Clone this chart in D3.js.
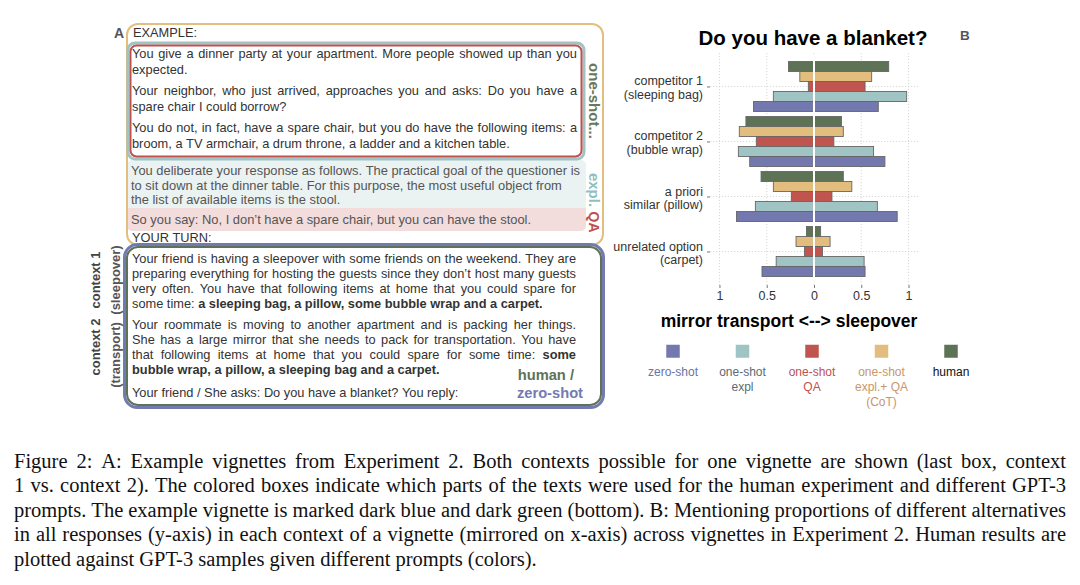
<!DOCTYPE html>
<html>
<head>
<meta charset="utf-8">
<script src="https://cdn.jsdelivr.net/npm/d3@7"></script>
<style>
  body { margin: 0; background: #fff; }
  svg { display: block; }
</style>
</head>
<body>
<svg id="fig" width="1080" height="585"></svg>
<script>
// ---------- panel B data ----------
const categories = ["competitor 1", "competitor 2", "a priori", "unrelated option"];
const categoryLabels = [["competitor 1", "(sleeping bag)"], ["competitor 2", "(bubble wrap)"],
                        ["a priori", "similar (pillow)"], ["unrelated option", "(carpet)"]];
// series top -> bottom inside each category
const seriesKeys = ["human", "cot", "qa", "expl", "zero"];
// mentioning proportions, left side (mirror transport) / right side (sleepover)
const humanTransport = [0.27, 0.72, 0.56, 0.08];
const humanSleepover = [0.79, 0.29, 0.31, 0.07];
const cotTransport   = [0.15, 0.79, 0.43, 0.19];
const cotSleepover   = [0.61, 0.31, 0.40, 0.17];
const qaTransport    = [0.06, 0.61, 0.24, 0.10];
const qaSleepover    = [0.54, 0.21, 0.19, 0.09];
const explTransport  = [0.43, 0.80, 0.62, 0.40];
const explSleepover  = [0.98, 0.63, 0.67, 0.53];
const zeroTransport  = [0.64, 0.68, 0.82, 0.55];
const zeroSleepover  = [0.68, 0.75, 0.88, 0.54];
const xTicks = [-1, -0.5, 0, 0.5, 1];

const legendKeys = ["zero", "expl", "qa", "cot", "human"];
const legendLabels = [["zero-shot"], ["one-shot", "expl"], ["one-shot", "QA"], ["one-shot", "expl.+ QA", "(CoT)"], ["human"]];

const fill = {zero: "#7379ae", expl: "#a0c4c4", qa: "#c0544f", cot: "#e2bd7d", human: "#5e7355"};
const labelColor = {zero: "#6b73a3", expl: "#5b6b72", qa: "#c0504d", cot: "#c9966b", human: "#111"};

// ---------- panel A text ----------
const exampleParas = [
  ["You give a dinner party at your apartment. More people showed up than you", "expected."],
  ["Your neighbor, who just arrived, approaches you and asks: Do you have a", "spare chair I could borrow?"],
  ["You do not, in fact, have a spare chair, but you do have the following items: a",
   "broom, a TV armchair, a drum throne, a ladder and a kitchen table."]
];
const explLines = ["You deliberate your response as follows. The practical goal of the questioner is",
  "to sit down at the dinner table. For this purpose, the most useful object from",
  "the list of available items is the stool."];
const qaLine = "So you say: No, I don\u2019t have a spare chair, but you can have the stool.";
const turnParas = [
  ["Your friend is having a sleepover with some friends on the weekend. They are",
   "preparing everything for hosting the guests since they don\u2019t host many guests",
   "very often. You have that following items at home that you could spare for",
   "some time: |a sleeping bag, a pillow, some bubble wrap and a carpet."],
  ["Your roommate is moving to another apartment and is packing her things.",
   "She has a large mirror that she needs to pack for transportation. You have",
   "that following items at home that you could spare for some time: |some",
   "|bubble wrap, a pillow, a sleeping bag and a carpet."]
];
const askLine = "Your friend / She asks: Do you have a blanket? You reply:";

const captionLines = [
  "Figure 2: A: Example vignettes from Experiment 2. Both contexts possible for one vignette are shown (last box, context",
  "1 vs. context 2). The colored boxes indicate which parts of the texts were used for the human experiment and different GPT-3",
  "prompts. The example vignette is marked dark blue and dark green (bottom). B: Mentioning proportions of different alternatives",
  "in all responses (y-axis) in each context of a vignette (mirrored on x-axis) across vignettes in Experiment 2. Human results are",
  "plotted against GPT-3 samples given different prompts (colors)."
];

const SANS = "Liberation Sans, Arial, Helvetica, sans-serif";
const SERIF = "Liberation Serif, Times New Roman, serif";
const svg = d3.select("#fig");

// word-by-word line, optionally justified; text after "|" is bold
function textLine(g, str, x, y, width, o) {
  const parts = str.split("|");
  const words = [];
  parts.forEach((p, k) => p.split(" ").filter(w => w).forEach(w => words.push({w, b: k === 1})));
  const nodes = words.map(d => g.append("text")
      .attr("y", y).attr("font-family", o.family || SANS).attr("font-size", o.size)
      .attr("font-weight", d.b ? "bold" : null).attr("fill", o.color || "#333").text(d.w));
  const widths = nodes.map(n => n.node().getComputedTextLength());
  let gap = o.size * (o.space || 0.278);
  if (o.justify && words.length > 1) gap = Math.max(o.size * 0.15, (width - d3.sum(widths)) / (words.length - 1));
  let cx = x;
  nodes.forEach((n, i) => { n.attr("x", cx); cx += widths[i] + gap; });
}

function paragraph(g, lines, x, y0, lh, width, o) {
  lines.forEach((l, i) => textLine(g, l, x, y0 + i * lh, width, Object.assign({justify: i < lines.length - 1}, o)));
}

function vtext(g, str, x, y, angle, o) {
  g.append("text").attr("transform", `translate(${x},${y}) rotate(${angle})`)
    .attr("text-anchor", "middle").attr("dominant-baseline", "central")
    .attr("font-family", SANS).attr("font-size", o.size).attr("font-weight", "bold")
    .attr("fill", o.color).text(str);
}

// ---------- panel A ----------
const A = svg.append("g");
A.append("text").attr("x", 114).attr("y", 38).attr("font-family", SANS).attr("font-size", 14)
  .attr("font-weight", "bold").attr("fill", "#555").text("A");

// background fills
A.append("rect").attr("x", 127).attr("y", 160).attr("width", 459).attr("height", 55).attr("rx", 5).attr("fill", "#eaf2f2");
A.append("rect").attr("x", 127).attr("y", 211).attr("width", 459).attr("height", 20).attr("rx", 5).attr("fill", "#f3dcdc");
A.append("rect").attr("x", 127).attr("y", 208).attr("width", 459).attr("height", 6).attr("fill", "#f3dcdc");

// frames
A.append("rect").attr("x", 127).attr("y", 24).attr("width", 476).attr("height", 221).attr("rx", 11)
  .attr("fill", "none").attr("stroke", "#e2bf7e").attr("stroke-width", 2);
A.append("rect").attr("x", 128).attr("y", 43).attr("width", 456).attr("height", 116).attr("rx", 7)
  .attr("fill", "none").attr("stroke", "#a0c4c4").attr("stroke-width", 3);
A.append("rect").attr("x", 130.5).attr("y", 45.5).attr("width", 451).attr("height", 111).attr("rx", 6)
  .attr("fill", "none").attr("stroke", "#c0504d").attr("stroke-width", 2);
A.append("rect").attr("x", 124.5).attr("y", 244.5).attr("width", 479).attr("height", 163).attr("rx", 13)
  .attr("fill", "none").attr("stroke", "#717bb2").attr("stroke-width", 3);
A.append("rect").attr("x", 127).attr("y", 247).attr("width", 474).attr("height", 158).attr("rx", 11)
  .attr("fill", "none").attr("stroke", "#5e7355").attr("stroke-width", 2);

// texts
const FS = 12.8;
textLine(A, "EXAMPLE:", 133, 37, 0, {size: FS});
const exY = [58, 95, 132];
exampleParas.forEach((p, i) => paragraph(A, p, 132, exY[i], 16, 445, {size: FS}));
explLines.forEach((l, i) => textLine(A, l, 131, 175 + i * 14.5, 0, {size: 12.9, color: "#555"}));
textLine(A, qaLine, 131, 224, 0, {size: 12.9, color: "#555"});
textLine(A, "YOUR TURN:", 132, 242, 0, {size: FS});

const tY = [263, 329];
turnParas.forEach((p, i) => paragraph(A, p, 132, tY[i], 15, 444, {size: FS}));
textLine(A, askLine, 132, 397, 0, {size: FS});

A.append("text").attr("x", 574).attr("y", 380).attr("text-anchor", "end").attr("font-family", SANS)
  .attr("font-size", 14.7).attr("font-weight", "bold").attr("fill", "#5e7355").text("human /");
A.append("text").attr("x", 583).attr("y", 398).attr("text-anchor", "end").attr("font-family", SANS)
  .attr("font-size", 14.7).attr("font-weight", "bold").attr("fill", "#717bb2").text("zero-shot");

vtext(A, "one-shot...", 594, 101, 90, {size: 15, color: "#67775d"});
vtext(A, "expl.", 594, 190, 90, {size: 15, color: "#8fbfbf"});
vtext(A, "QA", 594, 222, 90, {size: 14, color: "#c0504d"});
vtext(A, "context 1", 95, 280, -90, {size: 13, color: "#444"});
vtext(A, "(sleepover)", 115, 280, -90, {size: 13, color: "#555"});
vtext(A, "context 2", 95, 347, -90, {size: 13, color: "#444"});
vtext(A, "(transport)", 115, 355, -90, {size: 13, color: "#555"});

// ---------- panel B ----------
const B = svg.append("g");
const x = d3.scaleLinear().domain([-1.1, 1.1]).range([710, 918]);
const y = d3.scalePoint().domain(categories).range([53, 285]).padding(0.609);
const inner = d3.scaleBand().domain(seriesKeys).range([-25, 25]);

const lookup = {
  human: [humanTransport, humanSleepover], cot: [cotTransport, cotSleepover],
  qa: [qaTransport, qaSleepover], expl: [explTransport, explSleepover], zero: [zeroTransport, zeroSleepover]
};
const rows = [];
categories.forEach((c, i) => seriesKeys.forEach(s => rows.push({cat: c, s, left: lookup[s][0][i], right: lookup[s][1][i]})));

// grid
B.selectAll("line.vg").data(xTicks).enter().append("line")
  .attr("x1", d => x(d)).attr("x2", d => x(d)).attr("y1", 53).attr("y2", 285)
  .attr("stroke", "#cfcfcf").attr("stroke-width", 0.8).attr("stroke-dasharray", "1.2,1.8");
B.selectAll("line.hg").data(categories).enter().append("line")
  .attr("x1", 710).attr("x2", 918).attr("y1", d => y(d)).attr("y2", d => y(d))
  .attr("stroke", "#cfcfcf").attr("stroke-width", 0.8).attr("stroke-dasharray", "1.2,1.8");

// bars
B.selectAll("rect.bar").data(rows).enter().append("rect")
  .attr("x", d => x(-d.left)).attr("width", d => x(d.right) - x(-d.left))
  .attr("y", d => y(d.cat) + inner(d.s)).attr("height", inner.bandwidth())
  .attr("fill", d => fill[d.s]).attr("stroke", "#666").attr("stroke-width", 0.9);

// white divider at 0
B.append("line").attr("x1", x(0)).attr("x2", x(0)).attr("y1", 55).attr("y2", 284)
  .attr("stroke", "#fff").attr("stroke-width", 2);

// x axis
const gx = B.append("g").attr("transform", "translate(0,285)")
  .call(d3.axisBottom(x).tickValues(xTicks).tickFormat(d => Math.abs(d)).tickSize(3));
gx.select(".domain").remove();
gx.selectAll("line").attr("stroke", "#777");
gx.selectAll("text").attr("font-family", SANS).attr("font-size", 12.5).attr("fill", "#333");

// y axis
const gy = B.append("g").attr("transform", "translate(710,0)")
  .call(d3.axisLeft(y).tickSize(3).tickFormat(""));
gy.select(".domain").remove();
gy.selectAll("line").attr("stroke", "#777");
categories.forEach((c, i) => {
  const t = B.append("text").attr("text-anchor", "end").attr("font-family", SANS)
    .attr("font-size", 12.5).attr("fill", "#333");
  categoryLabels[i].forEach((l, k) => t.append("tspan").attr("x", 703).attr("y", y(c) - 1 + k * 13.5).text(l));
});

// titles
B.append("text").attr("x", 813).attr("y", 45).attr("text-anchor", "middle").attr("font-family", SANS)
  .attr("font-size", 20.5).attr("font-weight", "bold").attr("fill", "#000").text("Do you have a blanket?");
B.append("text").attr("x", 960).attr("y", 40).attr("font-family", SANS)
  .attr("font-size", 13.5).attr("font-weight", "bold").attr("fill", "#555").text("B");
B.append("text").attr("x", 789).attr("y", 327).attr("text-anchor", "middle").attr("font-family", SANS)
  .attr("font-size", 17.5).attr("font-weight", "bold").attr("fill", "#000").text("mirror transport <--> sleepover");

// legend
const lx = d3.scalePoint().domain(legendKeys).range([673, 951]);
const lg = B.selectAll("g.leg").data(legendKeys).enter().append("g").attr("transform", d => `translate(${lx(d)},0)`);
lg.append("rect").attr("x", -7).attr("y", 344.5).attr("width", 14).attr("height", 13.5)
  .attr("fill", d => fill[d]).attr("stroke", "#fff").attr("stroke-width", 0.5);
lg.each(function (d, i) {
  const t = d3.select(this).append("text").attr("text-anchor", "middle").attr("font-family", SANS)
    .attr("font-size", 12).attr("fill", labelColor[d]);
  legendLabels[i].forEach((l, k) => t.append("tspan").attr("x", 0).attr("y", 376 + k * 15).text(l));
});

// ---------- caption ----------
const C = svg.append("g");
captionLines.forEach((l, i) => textLine(C, l, 14, 467.5 + i * 24.6, 1052,
  {size: 20.5, family: SERIF, color: "#111", space: 0.25, justify: i < captionLines.length - 1}));
</script>
</body>
</html>
